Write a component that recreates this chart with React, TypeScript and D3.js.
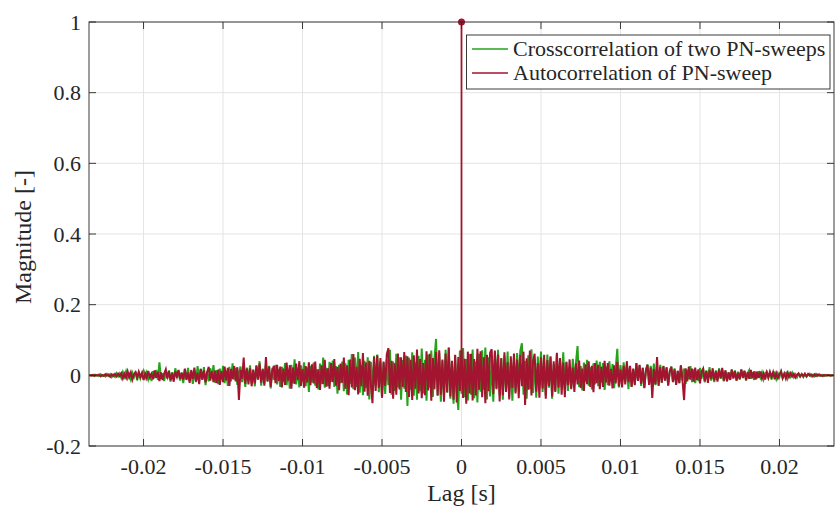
import React from "react";
import * as d3 from "d3";

// ---- data ----
const xTicks = [-0.02, -0.015, -0.01, -0.005, 0, 0.005, 0.01, 0.015, 0.02];
const xTickLabels = ["-0.02", "-0.015", "-0.01", "-0.005", "0", "0.005", "0.01", "0.015", "0.02"];
const yTicks = [-0.2, 0, 0.2, 0.4, 0.6, 0.8, 1];
const yTickLabels = ["-0.2", "0", "0.2", "0.4", "0.6", "0.8", "1"];
const seriesNames = ["Crosscorrelation of two PN-sweeps", "Autocorrelation of PN-sweep"];

// lag grid: -0.0234 s .. 0.0234 s in steps of 0.1 ms
const LAG_START = -0.0234;
const LAG_STEP = 0.0001;

// magnitudes in units of 1e-3
const crossMilli = [
  0,1,-1,2,-1,1,-2,3,-2,1,-3,4,-2,3,-5,2,-4,6,-3,5,
  -7,9,-4,11,-8,3,-12,7,-5,10,-14,6,-9,4,13,-6,8,-11,5,-16,
  12,-8,15,-13,37,-10,6,-16,11,-5,14,-18,9,-12,20,-7,13,-15,8,-22,
  17,-11,21,-16,8,-24,14,-19,26,-9,18,-13,23,-28,11,-17,20,-6,29,-21,
  15,-25,19,-10,27,-22,13,-30,24,-17,34,-12,21,-27,9,25,-19,16,-33,22,
  -14,28,-23,17,-31,26,-11,40,-29,19,-24,32,-16,27,-37,21,-13,30,-26,18,
  -33,24,-18,35,-28,14,-38,30,-22,45,-26,19,-34,28,-15,37,-31,23,-47,27,
  -20,36,-29,17,-40,33,-24,50,-35,21,-31,38,-18,42,-33,26,-52,30,-22,39,
  -45,34,-54,44,-24,60,-39,50,-33,66,-49,28,-56,41,-35,51,-68,38,-46,55,
  -31,59,-48,40,-63,36,-53,45,-28,72,-55,39,-44,61,-34,51,-69,43,-38,56,
  -87,50,-41,65,-58,36,-69,55,-45,76,-51,44,-72,59,-35,70,-61,48,103,-56,
  64,-75,41,-59,72,-49,78,-66,38,-80,56,-45,-98,70,-52,77,-62,46,-71,60,
  -55,73,-65,39,-77,61,-46,71,-41,79,-68,51,-60,45,-75,65,-36,72,-56,49,
  -69,55,-42,67,-61,35,-72,52,-46,63,-34,70,91,-55,41,-66,57,-39,74,-50,
  45,-63,53,-31,67,-47,39,-56,59,-35,51,-66,32,-44,61,-52,42,-34,65,-40,
  39,-44,24,-35,47,-21,37,83,-33,26,-43,36,-18,44,-29,23,-40,34,-26,42,
  -31,38,-19,35,-41,25,-28,40,-17,32,-36,21,75,-34,29,-24,37,-17,31,-39,
  26,-32,18,-25,34,-14,28,-30,21,-35,15,31,-23,27,-18,33,-28,12,-26,30,
  -21,27,-14,23,-28,11,25,-18,20,-26,12,-22,28,-15,19,-24,16,-11,26,-19,
  17,-22,12,-16,21,-9,18,-20,14,-11,23,-15,8,-19,14,-12,20,-10,16,-17,
  13,-16,9,-12,17,-7,14,-15,10,-11,16,-8,12,-14,6,15,-10,9,-13,11,
  -9,12,-6,8,-11,5,10,-7,9,-12,4,8,-10,6,-5,11,-8,3,7,-9,
  6,-4,7,-5,3,-6,5,-2,4,-5,3,-4,2,5,-3,2,-3,4,-2,3,
  -2,1,-2,1,-1,1,0,-1,0,
];

const autoMilli = [
  0,-1,1,-2,1,-1,2,-3,1,-2,3,-1,2,-4,3,-2,4,-3,5,-2,
  6,-9,4,-7,11,-5,8,-12,3,9,-6,10,-4,7,-13,5,-8,12,-6,4,
  -11,14,-7,10,-16,8,-13,5,17,-9,12,-14,6,-18,11,-4,15,-10,7,-12,
  19,-13,8,-21,15,-10,22,-17,7,-25,18,-12,14,-20,9,24,-15,11,-19,13,
  -22,16,-27,12,-19,25,-14,21,-30,18,-11,26,-17,23,-70,15,-9,50,-24,19,
  -26,20,-31,15,-23,28,-12,33,-21,17,-29,52,-18,24,-32,13,27,-22,30,-16,
  25,-34,19,-27,36,-15,29,-38,22,-24,33,-13,40,-30,18,-35,26,-20,37,-28,
  31,-23,39,-36,17,-41,28,-25,44,-32,20,-38,35,-19,46,-29,24,-42,33,-21,
  50,-38,28,-56,45,-34,60,-42,24,-54,47,-31,63,-46,36,-58,41,-26,-79,52,
  -44,57,-35,49,-63,39,-30,59,77,-50,41,-66,34,-55,62,-40,51,-33,66,-47,
  54,-61,44,-70,57,-38,73,-51,46,-65,35,-56,68,-43,61,-72,49,-39,66,-58,
  71,-55,45,-75,62,-48,79,-60,41,-69,58,-77,52,-44,72,-64,47,-80,67,-51,
  61,-71,46,-57,75,-41,68,-62,51,-79,58,-45,64,74,-53,70,-39,59,-74,48,
  -56,65,-47,37,-68,54,-36,62,-51,45,-65,58,-31,67,-84,48,-41,70,-57,39,
  61,-46,35,-63,51,-37,58,-66,43,-30,54,-60,40,-47,64,-34,49,-55,36,-62,
  37,-28,45,-39,22,-47,34,-26,42,-36,19,-44,31,-25,40,-33,27,-48,35,-22,
  30,-39,24,-33,41,-20,35,-29,18,-37,28,-23,38,-31,16,-34,27,-26,40,-19,
  27,-33,19,-28,35,-16,30,-24,21,-36,14,29,-27,22,-64,18,-25,52,-30,23,
  -21,26,-15,22,-29,12,24,-19,17,-27,13,-22,28,-14,-70,20,-17,25,-12,19,
  -18,22,-13,17,-23,10,19,-16,12,-21,15,-9,20,-14,11,-18,16,-8,21,-15,
  14,-17,8,-13,16,-9,12,-15,7,-11,17,-6,13,-14,9,-10,15,-8,11,-12,
  10,-7,11,-9,5,-12,8,-6,10,-4,9,-11,6,-8,3,11,-7,5,-9,7,
  -5,6,-3,4,-6,2,5,-4,3,-2,5,-3,4,-1,2,-3,3,-2,2,-1,
  1,-2,1,-1,1,0,-1,0,0,
];

// autocorrelation main peak (stem at zero lag)
const peakLag = [0];
const peakValue = [1];

const lags = d3.range(crossMilli.length).map((i) => LAG_START + i * LAG_STEP);
const cross = crossMilli.map((v) => v / 1000);
const auto = autoMilli.map((v) => v / 1000);

// ---- layout ----
const W = 835;
const H = 513;
const M = { left: 89, right: 834, top: 22, bottom: 446 };
const FONT = "Liberation Serif, DejaVu Serif, serif";
const GREEN = "#26a31c";
const RED = "#a2142f";
const AXIS = "#262626";

export default function App() {
  const x = d3.scaleLinear().domain([-0.02343, 0.02343]).range([M.left, M.right]);
  const y = d3.scaleLinear().domain([-0.2, 1]).range([M.bottom, M.top]);

  const line = d3
    .line<number>()
    .x((_, i) => x(lags[i]))
    .y((d) => y(d));

  const tickLen = 7;
  const textStyle = { fontFamily: FONT };

  return (
    <svg
      width={W}
      height={H}
      style={{ position: "absolute", left: 0, top: 0, background: "#fff", fontFamily: FONT }}
    >
      <defs>
        <clipPath id="plot">
          <rect x={M.left} y={M.top} width={M.right - M.left} height={M.bottom - M.top} />
        </clipPath>
      </defs>
      <rect x={0} y={0} width={W} height={H} fill="#fff" />

      {/* grid */}
      <g stroke="#e4e4e4" strokeWidth={1}>
        {xTicks.map((t) => (
          <line key={"gx" + t} x1={x(t)} x2={x(t)} y1={M.top} y2={M.bottom} />
        ))}
        {yTicks.map((t) => (
          <line key={"gy" + t} x1={M.left} x2={M.right} y1={y(t)} y2={y(t)} />
        ))}
      </g>

      {/* series */}
      <g clipPath="url(#plot)" fill="none">
        <path d={line(cross) || ""} stroke={GREEN} strokeWidth={2} strokeLinejoin="miter" />
        <path d={line(auto) || ""} stroke={RED} strokeWidth={2} strokeLinejoin="miter" />
        {peakLag.map((p, i) => (
          <line
            key={"pk" + i}
            x1={x(p)}
            x2={x(p)}
            y1={y(0)}
            y2={y(peakValue[i])}
            stroke={RED}
            strokeWidth={1.8}
          />
        ))}
      </g>
      {peakLag.map((p, i) => (
        <circle key={"pc" + i} cx={x(p)} cy={y(peakValue[i])} r={3.5} fill={RED} />
      ))}

      {/* axes box */}
      <rect
        x={M.left}
        y={M.top}
        width={M.right - M.left}
        height={M.bottom - M.top}
        fill="none"
        stroke={AXIS}
        strokeWidth={0.9}
      />
      <g stroke={AXIS} strokeWidth={0.9}>
        {xTicks.map((t) => (
          <g key={"tx" + t}>
            <line x1={x(t)} x2={x(t)} y1={M.bottom} y2={M.bottom - tickLen} />
            <line x1={x(t)} x2={x(t)} y1={M.top} y2={M.top + tickLen} />
          </g>
        ))}
        {yTicks.map((t) => (
          <g key={"ty" + t}>
            <line x1={M.left} x2={M.left + tickLen} y1={y(t)} y2={y(t)} />
            <line x1={M.right} x2={M.right - tickLen} y1={y(t)} y2={y(t)} />
          </g>
        ))}
      </g>

      {/* tick labels */}
      <g fill="#262626" fontSize={22}>
        {xTicks.map((t, i) => (
          <text key={"lx" + t} x={x(t)} y={474} textAnchor="middle" style={textStyle}>
            {xTickLabels[i]}
          </text>
        ))}
        {yTicks.map((t, i) => (
          <text key={"ly" + t} x={81} y={y(t) + 7.5} textAnchor="end" style={textStyle}>
            {yTickLabels[i]}
          </text>
        ))}
      </g>

      {/* axis labels */}
      <text x={x(0)} y={501} textAnchor="middle" fontSize={24} fill="#262626" style={textStyle}>
        Lag [s]
      </text>
      <text
        transform={`translate(31, ${(M.top + M.bottom) / 2 + 3}) rotate(-90)`}
        textAnchor="middle"
        fontSize={24}
        fill="#262626"
        style={textStyle}
      >
        Magnitude [-]
      </text>

      {/* legend */}
      <g>
        <rect x={466.5} y={35} width={363.5} height={54} fill="#fff" stroke={AXIS} strokeWidth={0.9} />
        {seriesNames.map((name, i) => {
          const cy = 49 + i * 24;
          return (
            <g key={name}>
              <line x1={472} x2={508} y1={cy} y2={cy} stroke={i === 0 ? GREEN : RED} strokeWidth={1.5} />
              <text x={513} y={cy + 7} fontSize={22} fill="#262626" style={textStyle}>
                {name}
              </text>
            </g>
          );
        })}
      </g>
    </svg>
  );
}
